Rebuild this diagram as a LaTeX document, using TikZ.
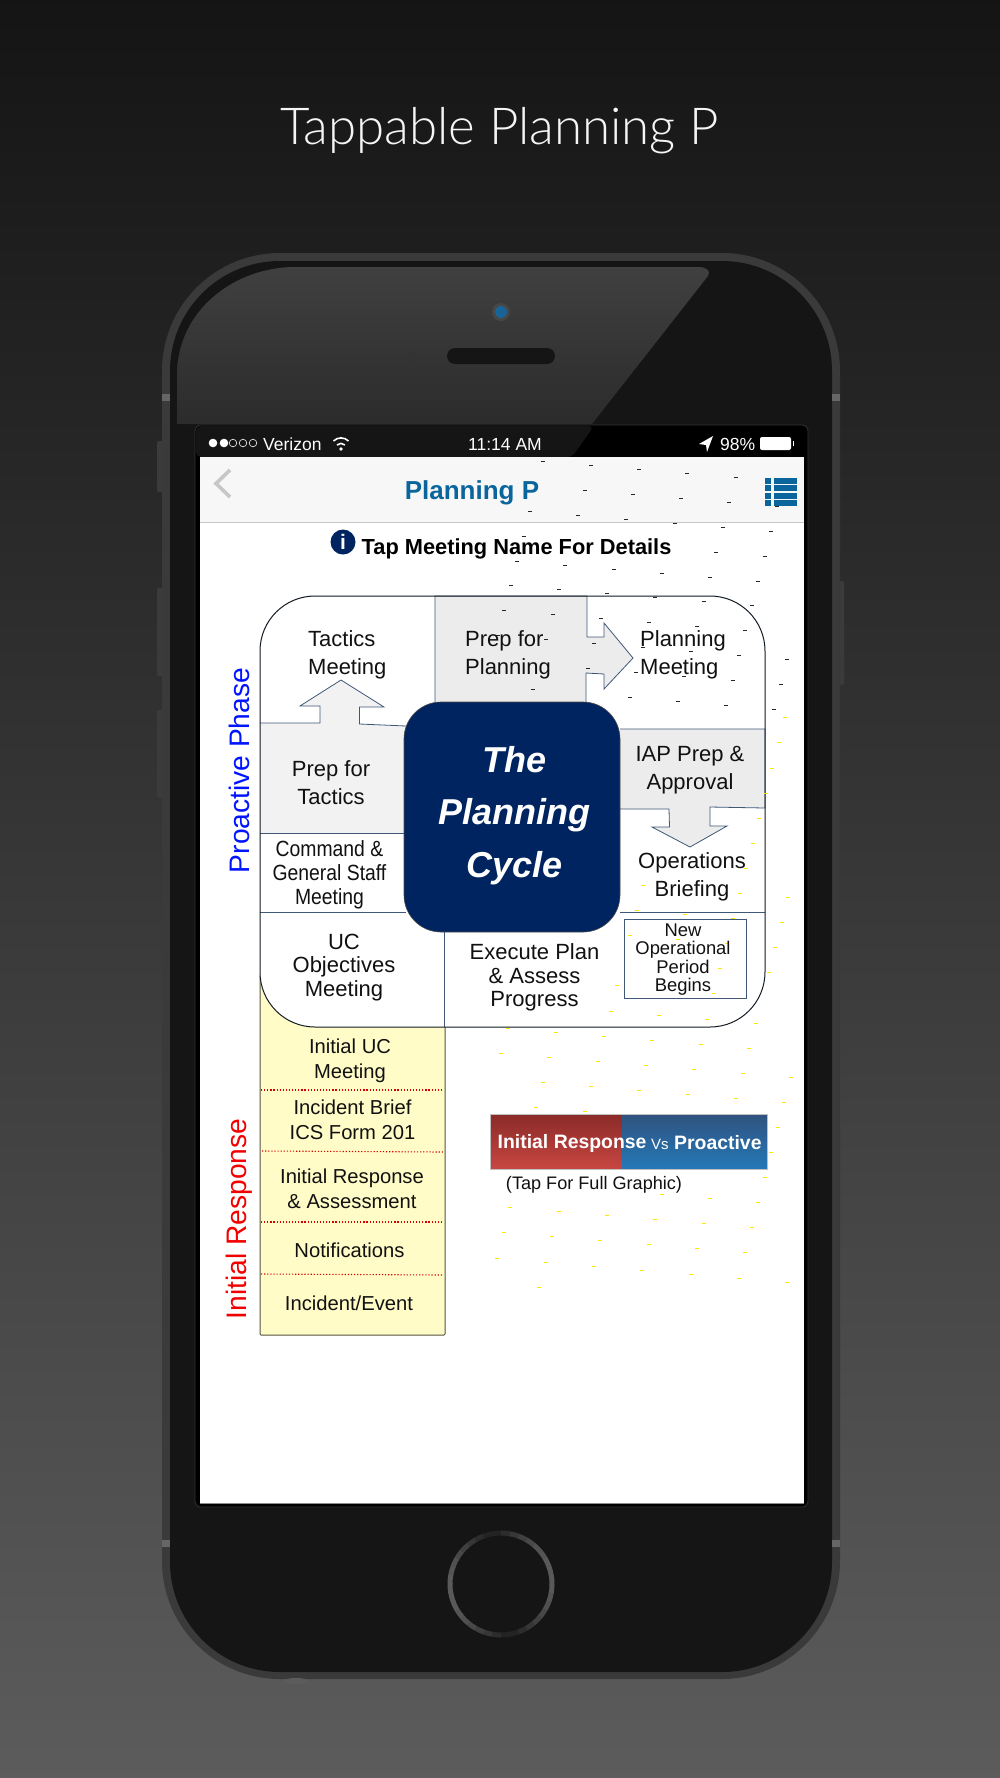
\documentclass[tikz,border=0pt]{standalone}
\usepackage{fontspec}
\setmainfont{Liberation Sans}
\newfontfamily\lightfont{Lato Light}
\usetikzlibrary{shapes.geometric}
\definecolor{navy}{HTML}{00245F}
\definecolor{edge}{HTML}{3F5878}
\definecolor{ink}{HTML}{111111}
\definecolor{bezel}{HTML}{3A3A3A}
\definecolor{face}{HTML}{151515}
\definecolor{navblue}{HTML}{0A659C}
\definecolor{camblue}{HTML}{1A6396}
\definecolor{redtop}{HTML}{8A2B28}
\definecolor{redbot}{HTML}{C84642}
\definecolor{bluetop}{HTML}{30527F}
\definecolor{bluebot}{HTML}{2479B8}
\newcommand{\fs}[2]{\fontsize{#1}{#2}\selectfont}
\newcommand{\sq}[1]{\scalebox{0.88}[1]{#1}}
\tikzset{
  lbl/.style={inner sep=0pt,text=ink,align=center},
  big/.style={lbl,yshift=-2pt,font=\fs{22}{28}},
  tight/.style={lbl,yshift=-2pt,font=\fs{22}{23.5}},
  small/.style={lbl,font=\fs{20.2}{25.5}},
  tiny/.style={lbl,yshift=-2pt,font=\fs{18.4}{18.3}},
  stat/.style={inner sep=0pt,text=white,font=\fs{17.5}{20}},
  cell/.style={draw=edge,line width=0.8pt},
  dots/.style={draw=red!85!black,line width=1.1pt,dash pattern=on 1.2pt off 1.9pt},
  blackdash/.style={black!85,line width=0.7pt},
  yellowdash/.style={yellow!90!orange,line width=0.8pt},
}
\begin{document}
\begin{tikzpicture}[x=1pt,y=-1pt]
\useasboundingbox (0,0) rectangle (1000,1778);
% backdrop
\shade[top color=black!92,bottom color=black!64] (0,0) rectangle (1000,1778);
\node[anchor=base,inner sep=0pt,text=white!96!black,font=\lightfont\fs{51}{55}] (title) at (499.5,144) {Tappable Planning P};
% side buttons
\begin{scope}[fill=black!77]
\fill[rounded corners=2pt] (157,441) rectangle (166,492);
\fill[rounded corners=2pt] (157,588) rectangle (166,676);
\fill[rounded corners=2pt] (157,710) rectangle (166,798);
\fill[rounded corners=2pt] (836,581) rectangle (844,685);
\end{scope}
% phone body
\fill[bezel,rounded corners=118pt] (162,253) rectangle (840,1679);
\fill[face,rounded corners=110pt] (170,261) rectangle (832,1672);
\fill[black!60] (162,394) rectangle (170,401);
\fill[black!60] (832,394) rectangle (840,401);
\fill[black!60] (162,1540) rectangle (170,1547);
\fill[black!60] (832,1540) rectangle (840,1547);
\fill[black!64] (296,1681) ellipse (12 and 3);
% glare
\shade[top color=black!75,bottom color=black!83]
  (177,424) -- (177,375) .. controls (177,310) and (235,267) .. (295,267)
  -- (698,267) .. controls (707,267) and (711,271) .. (708,276) -- (592,424) -- cycle;
% camera and speaker
\fill[black!72] (501,312) circle (9);
\fill[camblue] (501,312) circle (6);
\fill[face,rounded corners=8pt] (447,348) rectangle (555,364);
\fill[black!80] (413,356) circle (4);
% home button
\foreach \a in {0,10,...,350}{
  \pgfmathtruncatemacro{\m}{4+26*abs(cos(\a+15))}
  \draw[white!\m!face,line width=5pt] (501,1584) ++(\a:51) arc[start angle=\a,delta angle=10.5,radius=51];
}
% screen frame
\fill[black,draw=black!80,line width=0.8pt,rounded corners=6pt] (195,425) rectangle (808,1507);
\fill[face,rounded corners=5pt] (196,426) -- (594,426) -- (572,457) -- (196,457) -- cycle;
\fill[white] (200,457) rectangle (804,1503);
\draw[black!45,line width=1pt] (200,1503) -- (804,1503);
% status bar
\foreach \x in {213,224}{\fill[white] (\x,443) circle (4.3);}
\foreach \x in {233,243,253}{\draw[white,line width=0.6pt] (\x,443) circle (3.8);}
\node[stat,anchor=west] (carrier) at (263,444) {Verizon};
\coordinate (wifi) at (341,450);
\fill[white] (wifi) ++(0,-1) circle (1.8);
\draw[white,line width=1.6pt] (wifi) ++(-4,-5) arc[start angle=225,end angle=315,radius=5.6];
\draw[white,line width=1.6pt] (wifi) ++(-7.5,-9) arc[start angle=225,end angle=315,radius=10.6];
\node[stat] (clock) at (505,444) {11:14 AM};
\fill[white] (713,436) -- (699,444) -- (706,445) -- (707,452) -- cycle;
\node[stat,anchor=west] (pct) at (720,444) {98\%};
\fill[white,rounded corners=2pt] (760,437) rectangle (791,450);
\fill[white] (792.5,441) rectangle (794,446);
% navigation bar
\fill[black!3] (200,457) rectangle (804,522);
\draw[black!22,line width=1pt] (200,522) -- (804,522);
\coordinate (chevA) at (230,470);
\coordinate (chevB) at (216,483.5);
\coordinate (chevC) at (230,497);
\draw[black!22,line width=3.6pt] (chevA) -- (chevB) -- (chevC);
\node[inner sep=0pt,text=navblue,font=\bfseries\fs{26}{30}] (navtitle) at (472,493) {Planning P};
\foreach \y in {481,488,496,503}{
  \fill[navblue] (765,\y-3.2) rectangle (771,\y+3.2);
  \fill[navblue] (774,\y-3.2) rectangle (797,\y+3.2);
}
% hint
\fill[navy] (343,542) circle (12.5);
\node[inner sep=0pt,text=white,font=\bfseries\fs{21}{22}] (infomark) at (343,542) {i};
\node[inner sep=0pt,anchor=west,text=black,font=\bfseries\fs{21.8}{24}] (hint) at (361.5,549) {Tap Meeting Name For Details};
% initial response column
\fill[yellow!22,draw=black!60!yellow!60!black,line width=1pt,rounded corners=1pt] (260,975) rectangle (445,1335);
\draw[dots] (261,1090) -- (443,1090);
\draw[dots] (262,1151) -- (443,1152);
\draw[dots] (261,1222) -- (442,1222);
\draw[dots] (261,1274) -- (442,1275);
% cycle frame
\fill[white,rounded corners=55pt] (260,596) rectangle (765,1027);
\fill[black!7.5] (435,596) -- (587,596) -- (587,637) -- (604,637) -- (604,623) -- (633,658) -- (604,689) -- (604,674) -- (586,673) -- (586,703) -- (435,703) -- cycle;
\draw[cell] (435,703) -- (435,596) -- (587,596) -- (587,637) -- (604,637) -- (604,623) -- (633,658) -- (604,689) -- (604,674) -- (586,673) -- (586,703);
\fill[blue!3!black!5] (260,723) -- (320,723) -- (320,706) -- (300,706) -- (341,680) -- (384,707) -- (359.5,707) -- (359.5,724) -- (406,726) -- (406,833) -- (260,833) -- cycle;
\draw[cell] (260,723) -- (320,723) -- (320,706) -- (300,706) -- (341,680) -- (384,707) -- (359.5,707) -- (359.5,724) -- (406,726);
\draw[cell] (260,833) -- (406,833);
\draw[cell] (260,912) -- (406,912);
\fill[black!7.5] (620,729) -- (765,729) -- (765,808) -- (710,807) -- (710,826) -- (727,826) -- (690,847) -- (652,827) -- (669.5,827) -- (669,809) -- (620,809) -- cycle;
\draw[cell] (620,729) -- (765,729) -- (765,808) -- (710,807) -- (710,826) -- (727,826) -- (690,847) -- (652,827) -- (669.5,827) -- (669,809) -- (620,809);
\draw[cell] (620,912) -- (765,912);
\draw[cell] (444,932) -- (444,1027);
\draw[black!70!edge,line width=1pt,rounded corners=55pt] (260,596) rectangle (765,1027);
\draw[cell,line width=1pt] (624,919) rectangle (746.5,998);
\fill[navy,draw=black!70,line width=0.6pt,rounded corners=37pt] (404,702) rectangle (620,932);
% dashes over the sheet
\foreach \j/\is in {0/{0,1,2,3,4},1/{1,2,3,4,5},2/{0,1,2,3,4,5},3/{0,4,5},4/{0,1,2,3,4,5},5/{0,1,2,3,4,5},6/{0,1,2,3,4,5},7/{0,1,2,3,4,5,6},8/{2,3,4,5,6},9/{1,3,4,5,6}}{
  \foreach \i in \is {
    \pgfmathsetmacro{\px}{542.8+48.2*\i-6.4*\j}
    \pgfmathsetmacro{\py}{461.7+4*\i+24.8*\j}
    \draw[blackdash] (\px-2,\py) -- (\px+2,\py);
  }
}
\foreach \j/\is in {-13/{4},-12/{4},-11/{4},-10/{4},-9/{4},-8/{4},-7/{4},-6/{2,4,5},-5/{2,3,4,5},-4/{2,3,4,5},-3/{4,5},-2/{2,4},-1/{2,3,4,5},0/{0,1,2,3,4,5},1/{0,1,2,3,4,5,6},2/{1,2,3,4,5,6},3/{1,2,6},4/{5,6},5/{6},6/{4,5,6},7/{1,2,3,4,5,6},8/{1,2,3,4,5,6},9/{1,2,3,4,5,6,7},10/{2}}{
  \foreach \i in \is {
    \pgfmathsetmacro{\px}{507.5+48.3*\i-6.5*\j}
    \pgfmathsetmacro{\py}{1028+4*\i+25.1*\j}
    \draw[yellowdash] (\px-2,\py) -- (\px+2,\py);
  }
}
% cycle labels
\node[big,anchor=west,align=left] (tactics) at (308,652.5) {Tactics\\Meeting};
\node[big,anchor=west,align=left] (prepplan) at (465,652.5) {Prep for\\Planning};
\node[big,anchor=west,align=left] (planmeet) at (640,652.5) {Planning\\Meeting};
\node[big] (preptac) at (331,780.5) {Prep for\\Tactics};
\node[lbl,yshift=-2pt,font=\fs{22}{24}] (cgs) at (329.5,873) {\sq{Command \&}\\\sq{General Staff}\\\sq{Meeting}};
\node[tight] (ucobj) at (344,965.5) {UC\\Objectives\\Meeting};
\node[tight] (execute) at (534.5,975.5) {Execute Plan\\\& Assess\\Progress};
\node[big] (iap) at (690,768) {IAP Prep \&\\Approval};
\node[big] (opsbrief) at (692,874.5) {Operations\\Briefing};
\node[tiny] (newop) at (683,957.5) {New\\Operational\\Period\\Begins};
\node[inner sep=0pt,align=center,text=white,font=\bfseries\itshape\fs{36}{52.5}] (cycle) at (514.5,815.5) {The\\Planning\\Cycle};
% column labels
\node[small] (iuc) at (350,1061) {Initial UC\\Meeting};
\node[small] (ibrief) at (352.5,1120) {Incident Brief\\ICS Form 201};
\node[small] (iresp) at (352,1189) {Initial Response\\\& Assessment};
\node[small] (notif) at (349.5,1250) {Notifications};
\node[small] (event) at (349,1303) {Incident/Event};
% phase labels
\node[inner sep=0pt,rotate=90,text=blue!92!cyan,font=\fs{28.2}{30}] (proactive) at (239.5,770.5) {Proactive Phase};
\node[inner sep=0pt,rotate=90,text=red!95!black,font=\fs{28.2}{32}] (initial) at (239.5,1219) {Initial Response};
% comparison button
\shade[top color=redtop,bottom color=redbot] (490.5,1114) rectangle (622,1169);
\shade[top color=bluetop,bottom color=bluebot] (622,1114) rectangle (767.5,1169);
\draw[black!25,line width=0.6pt] (490.5,1114) rectangle (767.5,1169);
\node[inner sep=0pt,anchor=west,text=white,font=\bfseries\fs{19.4}{22}] (cmpa) at (497.5,1143) {Initial Response};
\node[inner sep=0pt,anchor=west,text=white,font=\fs{15}{18}] (cmpv) at (651,1144) {Vs};
\node[inner sep=0pt,anchor=west,text=white,font=\bfseries\fs{19.4}{22}] (cmpb) at (674,1143) {Proactive};
\node[inner sep=0pt,text=ink,font=\fs{18.1}{20}] (tapfull) at (594,1184.5) {(Tap For Full Graphic)};
\end{tikzpicture}
\end{document}
